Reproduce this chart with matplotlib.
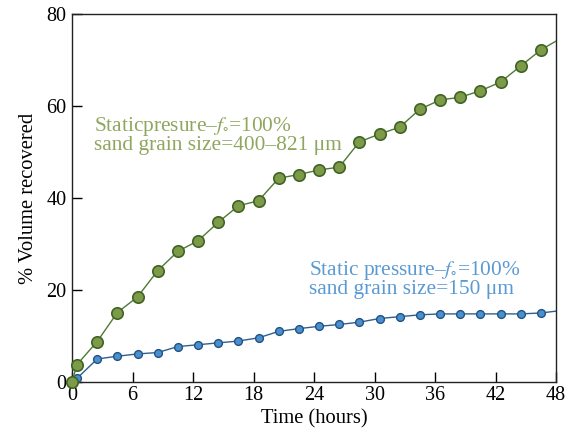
import matplotlib
matplotlib.use("Agg")
import matplotlib.pyplot as plt

plt.rcParams['font.family'] = ['Liberation Serif', 'DejaVu Serif']
plt.rcParams['mathtext.fontset'] = 'stix'

# Data
time_h = [0, 0.5, 2.5, 4.5, 6.5, 8.5, 10.5, 12.5, 14.5, 16.5, 18.5, 20.5, 22.5,
          24.5, 26.5, 28.5, 30.5, 32.5, 34.5, 36.5, 38.5, 40.5, 42.5, 44.5, 46.5, 48]
coarse_sand = [0, 3.8, 8.8, 15.1, 18.5, 24.2, 28.4, 30.7, 34.7, 38.3, 39.4, 44.3, 45.1,
               46.1, 46.7, 52.2, 53.9, 55.4, 59.3, 61.3, 61.9, 63.3, 65.2, 68.7, 72.2, 74.1]
fine_sand = [0, 0.8, 5.0, 5.6, 6.1, 6.4, 7.7, 8.1, 8.5, 8.9, 9.6, 11.0, 11.6,
             12.1, 12.5, 13.0, 13.8, 14.2, 14.6, 14.8, 14.8, 14.8, 14.8, 14.8, 15.0, 15.4]
x_ticks = [0, 6, 12, 18, 24, 30, 36, 42, 48]
y_ticks = [0, 20, 40, 60, 80]
coarse_label = ['Staticpresure–$f_{\\circ}$=100%', 'sand grain size=400–821 μm']
fine_label = ['Static pressure–$f_{\\circ}$=100%', 'sand grain size=150 μm']

fig = plt.figure(figsize=(5.76, 4.37), dpi=100)
ax = fig.add_axes([0.125, 0.1259, 0.8403, 0.8421])

n = len(time_h) - 1
ax.plot(time_h, fine_sand, '-', color='#2f5f8f', lw=1.0, zorder=2)
ax.plot(time_h[:n], fine_sand[:n], 'o', ms=5.6, mfc='#4a8fcf', mec='#23527f',
        mew=1.0, zorder=3, clip_on=False)
ax.plot(time_h, coarse_sand, '-', color='#4d7a35', lw=1.0, zorder=4)
ax.plot(time_h[:n], coarse_sand[:n], 'o', ms=8.2, mfc='#7c9a48', mec='#3f6424',
        mew=1.2, zorder=5, clip_on=False)

ax.set_xlim(0, 48)
ax.set_ylim(0, 80)
ax.set_xticks(x_ticks)
ax.set_yticks(y_ticks)
ax.tick_params(direction='in', length=7, width=1, labelsize=14.5, pad=4)
ax.tick_params(axis='x', pad=3)
for s in ax.spines.values():
    s.set_linewidth(1.0)
    s.set_color('#222222')

ax.set_xlabel('Time (hours)', fontsize=14.8, labelpad=3)
ax.set_ylabel('% Volume recovered', fontsize=14.8, labelpad=6)

for txt, yy in zip(coarse_label, [54.6, 50.4]):
    ax.text(2.2, yy, txt, color='#8fa65e', fontsize=15.4, va='baseline', ha='left')
for txt, yy in zip(fine_label, [23.3, 19.1]):
    ax.text(23.5, yy, txt, color='#5a9ad4', fontsize=15.4, va='baseline', ha='left')

fig.savefig('out.png', dpi=100)
